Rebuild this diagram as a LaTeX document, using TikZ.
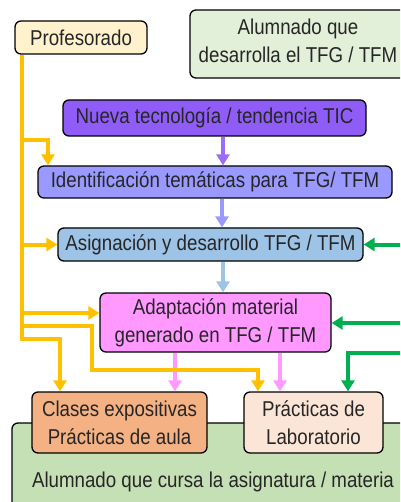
\documentclass[tikz,border=0pt]{standalone}
\usepackage{fontspec}
\setmainfont{Liberation Sans}[FakeStretch=0.87]
\usetikzlibrary{arrows.meta}
\definecolor{orng}{HTML}{FFC000}
\definecolor{grn}{HTML}{00B050}
\definecolor{txt}{HTML}{262626}
\definecolor{cprof}{HTML}{FFF2CC}
\definecolor{calumd}{HTML}{E2F0D9}
\definecolor{cnueva}{HTML}{8F5CF8}
\definecolor{cident}{HTML}{9999FF}
\definecolor{casig}{HTML}{9DC3E6}
\definecolor{cadapt}{HTML}{FF99FF}
\definecolor{cclases}{HTML}{F4B183}
\definecolor{cprac}{HTML}{FBE5D6}
\definecolor{calumc}{HTML}{C5E0B4}
\tikzset{
  lbl/.style={text=txt, align=center, inner sep=0pt, font=\fontsize{21.5}{28}\selectfont},
  box/.style={lbl, draw=black, line width=1.3pt, rounded corners=6pt},
  conn/.style={line width=4pt, -{Triangle[width=13pt,length=11pt]}},
}
\begin{document}
\begin{tikzpicture}[x=1pt,y=-1pt]
\useasboundingbox (0,0) rectangle (400,502);
\begin{scope}
\clip (0,0) rectangle (400,502);
% big box
\node[box, fill=calumc, minimum width=398pt, minimum height=92pt] (alumc) at (211,469) {};
\node[lbl] (alumct) at (213,482) {Alumnado que cursa la asignatura / materia};
\node[box, fill=cprof, minimum width=132pt, minimum height=33pt] (prof) at (81,37.5) {Profesorado};
\node[box, fill=calumd, minimum width=220pt, minimum height=68pt] (alumd) at (300,44) {};
\node[lbl] (alumdt) at (298,41) {Alumnado que\\desarrolla el TFG / TFM};
\node[box, fill=cnueva, minimum width=303pt, minimum height=36pt] (nueva) at (214.5,118) {Nueva tecnología / tendencia TIC};
\node[box, fill=cident, minimum width=354pt, minimum height=32pt] (ident) at (215,182) {Identificación temáticas para TFG/ TFM};
\node[box, fill=casig, minimum width=305pt, minimum height=33pt] (asig) at (210.5,244.5) {Asignación y desarrollo TFG / TFM};
\node[box, fill=cadapt, minimum width=231pt, minimum height=59pt] (adapt) at (215.5,322.5) {Adaptación material\\generado en TFG / TFM};
\node[box, fill=cclases, minimum width=175pt, minimum height=61pt] (clases) at (119.5,422.5) {Clases expositivas\\Prácticas de aula};
\node[box, fill=cprac, minimum width=139pt, minimum height=61pt] (prac) at (313.5,422.5) {Prácticas de\\Laboratorio};

% vertical flow arrows
\draw[conn, draw=cnueva!90] (223,0 |- nueva.south) -- (223,0 |- ident.north);
\draw[conn, draw=cident] (222,0 |- ident.south) -- (222,0 |- asig.north);
\draw[conn, draw=casig] (223,0 |- asig.south) -- (223,0 |- adapt.north);
\draw[conn, draw=cadapt] (175,0 |- adapt.south) -- (175,0 |- clases.north);
\draw[conn, draw=cadapt] (280,0 |- adapt.south) -- (280,0 |- prac.north);

% orange (profesorado)
\draw[conn, draw=orng] (22,0 |- prof.south) -- (22,339) -- (60,339) -- (60,0 |- clases.north);
\draw[conn, draw=orng] (22,140) -- (48,140) -- (48,0 |- ident.north);
\draw[conn, draw=orng] (22,0 |- asig.west) -- (asig.west);
\draw[conn, draw=orng] (22,313) -- (adapt.west |- 0,313);
\draw[conn, draw=orng] (22,326) -- (92,326) -- (92,370) -- (258,370) -- (258,0 |- prac.north);

% green (alumnado que desarrolla)
\coordinate (g1) at (402,0 |- asig.east);
\coordinate (g2) at (402,323);
\coordinate (g3) at (402,353);
\draw[conn, draw=grn] (g1) -- (asig.east);
\draw[conn, draw=grn] (g2) -- (adapt.east |- g2);
\draw[conn, draw=grn] (g3) -- (348,353) -- (348,0 |- prac.north);
\end{scope}
\end{tikzpicture}
\end{document}
